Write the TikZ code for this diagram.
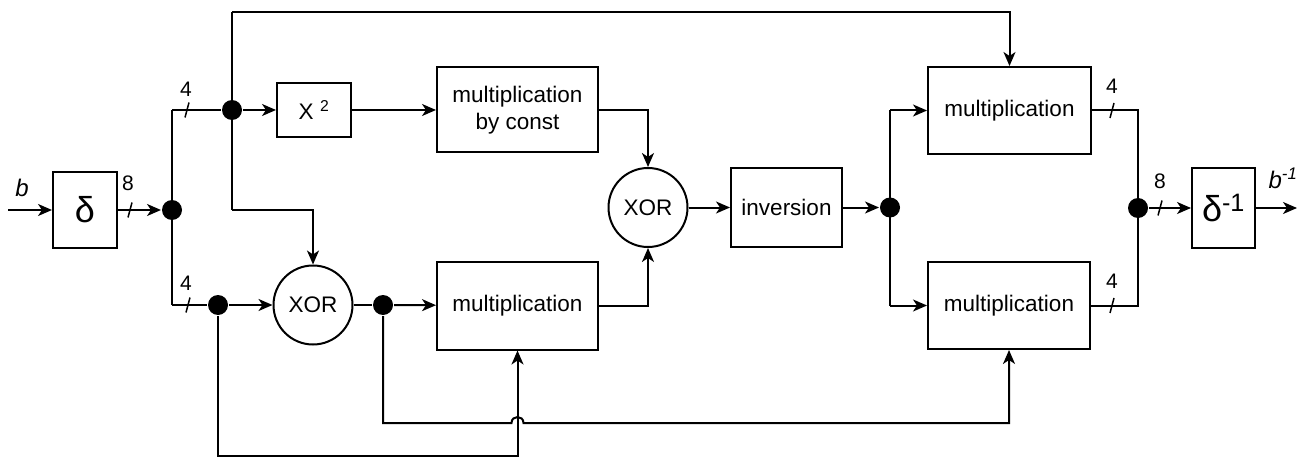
\documentclass[tikz,border=0pt]{standalone}
\usepackage{fontspec}
\setmainfont{Liberation Sans}
\usetikzlibrary{arrows.meta}
\begin{document}
\begin{tikzpicture}[x=1pt,y=-1pt, line width=2pt,
  >={Stealth[length=14pt,width=12pt,inset=4pt]},
  box/.style={draw, rectangle, inner sep=0pt, align=center, font=\fontsize{22.5}{27}\selectfont},
  gate/.style={draw, circle, minimum size=79pt, inner sep=0pt, font=\fontsize{22.5}{27}\selectfont},
  dot/.style={circle, fill, minimum size=20pt, inner sep=0pt},
  lbl/.style={inner sep=0pt, font=\fontsize{21}{23}\selectfont},
  busmark/.style={line width=1.5pt}]
\useasboundingbox (0,0) rectangle (1308,457);
% nodes
\node[box,minimum width=64pt,minimum height=76pt,font=\fontsize{36}{40}\selectfont] (delta) at (85,210) {δ};
\node[dot] (d1) at (172,210) {};
\node[dot] (d2) at (232,110) {};
\node[box,minimum width=74pt,minimum height=54pt] (sq) at (314,110) {X \textsuperscript{2}};
\node[box,minimum width=161pt,minimum height=85pt] (mbc) at (517.5,110) {multiplication\\by const};
\node[gate] (x1) at (313,305) {XOR};
\node[dot] (d3) at (218,305) {};
\node[dot] (d4) at (383,305) {};
\node[box,minimum width=161pt,minimum height=88pt] (mb) at (517.5,305.5) {multiplication};
\node[gate] (x2) at (648,207.5) {XOR};
\node[box,minimum width=111pt,minimum height=79pt] (inv) at (786.5,207.5) {inversion};
\node[dot] (d5) at (890,207.5) {};
\node[box,minimum width=163pt,minimum height=87pt] (mt) at (1009.5,110.5) {multiplication};
\node[box,minimum width=162pt,minimum height=87pt] (mr) at (1009,305.5) {multiplication};
\node[dot] (d6) at (1138,208) {};
\node[box,minimum width=63pt,minimum height=80pt,font=\fontsize{36}{40}\selectfont] (dinv) at (1223.5,208) {δ\textsuperscript{-1}};
\coordinate (in) at (8,210);
\coordinate (out) at (1297,208);
\coordinate (c1) at (172,110);
\coordinate (c2) at (172,305);
\coordinate (t1) at (232,12);
\coordinate (t2) at (232,210);
\coordinate (r1) at (890,110.5);
\coordinate (r2) at (890,305.5);
\coordinate (s1) at (1138,110.5);
\coordinate (s2) at (1138,305.5);
\coordinate (b1) at (218,456);
\coordinate (h) at (383,423);
\coordinate (hl) at (511.5,423);
\coordinate (hr) at (523.5,423);
% connectors
\draw[->] (in) -- (delta);
\draw[->] (delta) -- (d1);
\draw (c1) -- (c2);
\draw (c1) -- (d2);
\draw[->] (d2) -- (sq);
\draw (t1) -- (t2);
\draw[->] (t1) -| (mt.north);
\draw[->] (t2) -| (x1.north);
\draw[->] (sq.east) -- (sq.east -| mbc.west);
\draw[->] (mbc.east) -| (x2.north);
\draw (c2) -- (d3);
\draw[->] (d3) -- (x1);
\draw (x1) -- (d4);
\draw[->] (d4) -- (mb);
\draw[->] (mb.east) -| (x2.south);
\draw[->] (x2) -- (inv);
\draw[->] (inv) -- (d5);
\draw (r1) -- (r2);
\draw[->] (r1) -- (mt.west);
\draw[->] (r2) -- (mr.west);
\draw (mt.east) -- (s1) -- (s2) -- (mr.east);
\draw[->] (d6) -- (dinv);
\draw[->] (dinv) -- (out);
\draw[->] (d3) -- (b1) -| (mb.south);
\draw[->] (d4) -- (h) -- (hl) .. controls (511.5,415) and (523.5,415) .. (hr) -| (mr.south);
% bus marks
\draw[busmark] (128,217.5) -- (132,202.5);
\draw[busmark] (185,117.5) -- (189,102.5);
\draw[busmark] (186,312.5) -- (190,297.5);
\draw[busmark] (1110,118) -- (1114,103);
\draw[busmark] (1110,313) -- (1114,298);
\draw[busmark] (1158,215.5) -- (1162,200.5);
% labels
\node[font=\itshape\fontsize{24}{26}\selectfont] (lb) at (22,188) {b};
\node[lbl] (l8a) at (128,183) {8};
\node[lbl] (l4a) at (186,89) {4};
\node[lbl] (l4b) at (186,283) {4};
\node[lbl] (l4c) at (1112,86) {4};
\node[lbl] (l4d) at (1112,281) {4};
\node[lbl] (l8b) at (1160,181) {8};
\node[font=\itshape\fontsize{24}{26}\selectfont] (lbo) at (1283,178) {b\textsuperscript{-1}};
\end{tikzpicture}
\end{document}
